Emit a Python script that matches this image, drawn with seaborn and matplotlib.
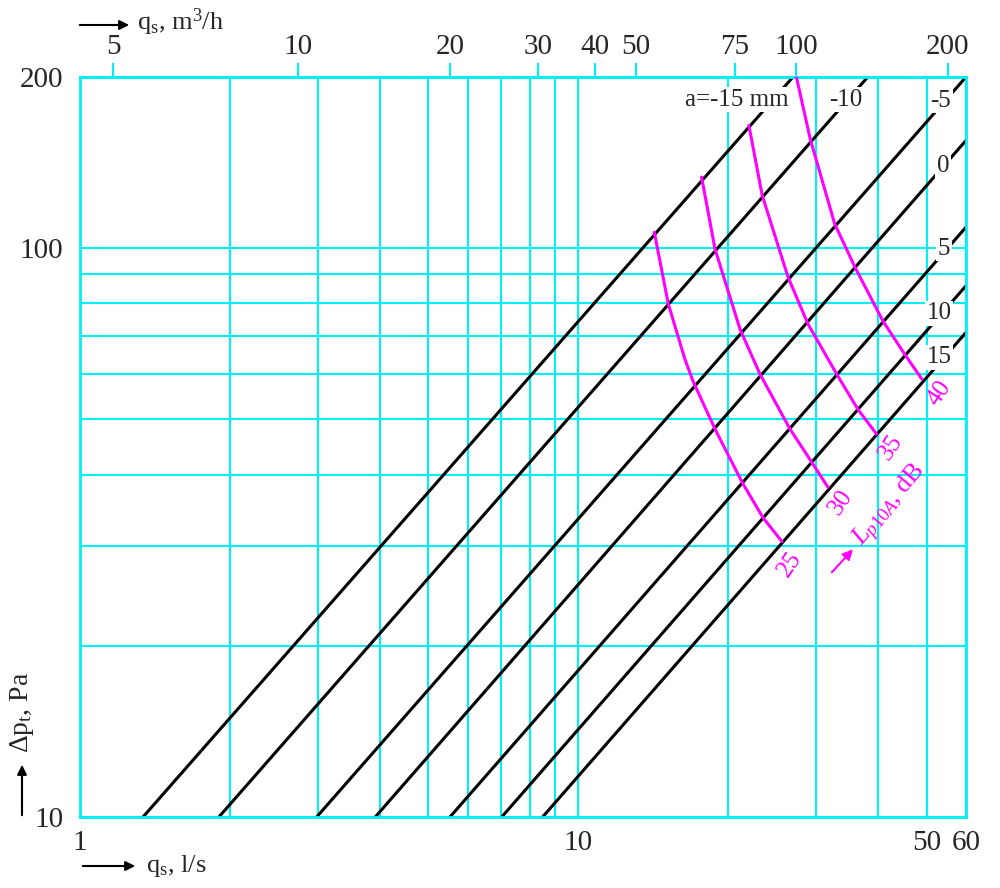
import matplotlib
matplotlib.use("Agg")
import matplotlib.pyplot as plt
import numpy as np
import pandas as pd
import seaborn as sns

# black lines: slot opening a, mm
line_names = ['a=-15 mm', '-10', '-5', '0', '5', '10', '15']
q_start = [1.338, 1.90, 2.985, 3.914, 5.527, 7.02, 8.48]
dp_start = [10, 10, 10, 10, 10, 10, 10]
q_end = [26.97, 38.1, 60, 60, 60, 60, 60]
dp_end = [200, 200, 200, 154.7, 108.9, 85.9, 71.1]

# magenta curves: sound level Lp10A, dB
lp_levels = ['25', '30', '35', '40']
lp25_q = [14.21, 15.16, 16.37, 16.99, 18.81, 21.31, 23.48, 25.63]
lp25_dp = [106.7, 79.8, 63.8, 58.4, 48.1, 38.8, 33.6, 30.5]
lp30_q = [17.68, 18.81, 21.11, 23.15, 26.6, 29.44, 31.7]
lp30_dp = [133.4, 99.7, 72.1, 60.1, 48.1, 42.0, 38.0]
lp35_q = [22.0, 23.4, 26.36, 28.9, 33.0, 36.4, 39.7]
lp35_dp = [164.4, 123.8, 89.0, 73.6, 60.1, 52.1, 47.1]
lp40_q = [27.4, 29.2, 32.7, 35.9, 40.9, 45.2, 48.9]
lp40_dp = [200, 155.8, 110.4, 92.7, 74.4, 65.1, 58.9]

# axes ticks / grid
x_grid = [1, 2, 3, 4, 5, 6, 7, 8, 9, 10, 20, 30, 40, 50, 60]
x_labels = ['1', '', '', '', '', '', '', '', '', '10', '', '', '', '50', '60']
y_grid = [10, 20, 30, 40, 50, 60, 70, 80, 90, 100, 200]
y_labels = ['10', '', '', '', '', '', '', '', '', '100', '200']
# top axis, m3/h (tick positions as drawn, in l/s)
top_pos = [1.165, 2.738, 5.527, 8.30, 10.80, 13.05, 20.63, 27.35, 55.2]
top_labels = ['5', '10', '20', '30', '40', '50', '75', '100', '200']

# label positions (q, dp)
line_label_q = [20.8, 34.45, 53.4, 53.9, 54.2, 52.97, 52.97]
line_label_dp = [182.5, 182.5, 181.6, 139.6, 99.7, 76.9, 64.3]
lp_label_q = [26.6, 33.66, 42.4, 52.97]
lp_label_dp = [27.8, 35.7, 44.7, 55.6]

CYAN = '#00F0F5'
PINK = '#FF00FF'

black_df = pd.DataFrame({
    'q': q_start + q_end,
    'dp': dp_start + dp_end,
    'a': line_names + line_names,
})
lp_q = [lp25_q, lp30_q, lp35_q, lp40_q]
lp_dp = [lp25_dp, lp30_dp, lp35_dp, lp40_dp]
pink_df = pd.DataFrame({
    'q': sum(lp_q, []),
    'dp': sum(lp_dp, []),
    'level': sum([[lv] * len(qq) for lv, qq in zip(lp_levels, lp_q)], []),
})

sns.set_style("white")
plt.rcParams['font.family'] = ['Liberation Serif', 'DejaVu Serif']
plt.rcParams['mathtext.fontset'] = 'custom'
plt.rcParams['mathtext.rm'] = 'Liberation Serif'
plt.rcParams['mathtext.it'] = 'Liberation Serif:italic'

fig = plt.figure(figsize=(10, 8.88), dpi=100)
ax = fig.add_axes([80 / 1000, 1 - 817 / 888, 886 / 1000, 740 / 888])
ax.set_xscale('log')
ax.set_yscale('log')

sns.lineplot(data=black_df, x='q', y='dp', units='a', estimator=None,
             sort=False, color='black', lw=2.2, ax=ax, zorder=2)
sns.lineplot(data=pink_df, x='q', y='dp', units='level', estimator=None,
             sort=False, color=PINK, lw=2.2, ax=ax, zorder=3)

ax.set_xlim(1, 60)
ax.set_ylim(10, 200)
ax.set_xticks(x_grid, labels=x_labels)
ax.set_yticks(y_grid, labels=y_labels)
ax.minorticks_off()
ax.tick_params(axis='x', length=0, pad=9, labelsize=21)
ax.tick_params(axis='y', length=0, pad=12, labelsize=21)
ax.grid(True, color=CYAN, lw=1.5)
ax.set_axisbelow(True)
for s in ax.spines.values():
    s.set_color(CYAN)
    s.set_linewidth(2)
ax.set_xlabel('')
ax.set_ylabel('')

sec = ax.secondary_xaxis('top')
sec.set_xticks(top_pos, labels=top_labels)
sec.minorticks_off()
sec.tick_params(color=CYAN, length=10, width=1.5, labelsize=21, pad=2)
sec.spines['top'].set_color(CYAN)
sec.spines['top'].set_linewidth(2)

# line labels, white box hides the black line behind
for name, lq, ld in zip(line_names, line_label_q, line_label_dp):
    ax.text(lq, ld, name, fontsize=18, ha='center', va='center', zorder=2.2,
            bbox=dict(facecolor='white', edgecolor='none', pad=1))

for lv, lq, ld in zip(lp_levels, lp_label_q, lp_label_dp):
    ax.text(lq, ld, lv, fontsize=18, color=PINK, ha='center', va='center',
            rotation=56, zorder=4)
ax.text(42.4, 35.3, r'$L_{p10A}$, dB', fontsize=19, color=PINK, ha='center',
        va='center', rotation=50, zorder=4)
ax.annotate('', xy=(35.9, 29.8), xytext=(32.0, 26.7),
            arrowprops=dict(arrowstyle='-|>', color=PINK, lw=1.5,
                            mutation_scale=15), zorder=4)

# axis titles with arrows
def fig_arrow(x0, y0, x1, y1):
    ax.annotate('', xy=(x1 / 1000, 1 - y1 / 888), xytext=(x0 / 1000, 1 - y0 / 888),
                xycoords='figure fraction', textcoords='figure fraction',
                arrowprops=dict(arrowstyle='-|>', color='black', lw=1.5,
                                mutation_scale=14),
                annotation_clip=False)

fig_arrow(77, 25, 132, 25)
fig.text(137 / 1000, 1 - 22 / 888, r'$\mathrm{q_s}$, m$^3$/h', fontsize=19,
         ha='left', va='center')
fig_arrow(80, 866, 138, 866)
fig.text(146 / 1000, 1 - 866 / 888, r'$\mathrm{q_s}$, l/s', fontsize=19,
         ha='left', va='center')
fig_arrow(22, 818, 22, 762)
fig.text(22 / 1000, 1 - 712 / 888, r'$\Delta\mathrm{p_t}$, Pa', fontsize=20,
         ha='center', va='center', rotation=90)

fig.savefig('out.png', dpi=100, facecolor='white')
